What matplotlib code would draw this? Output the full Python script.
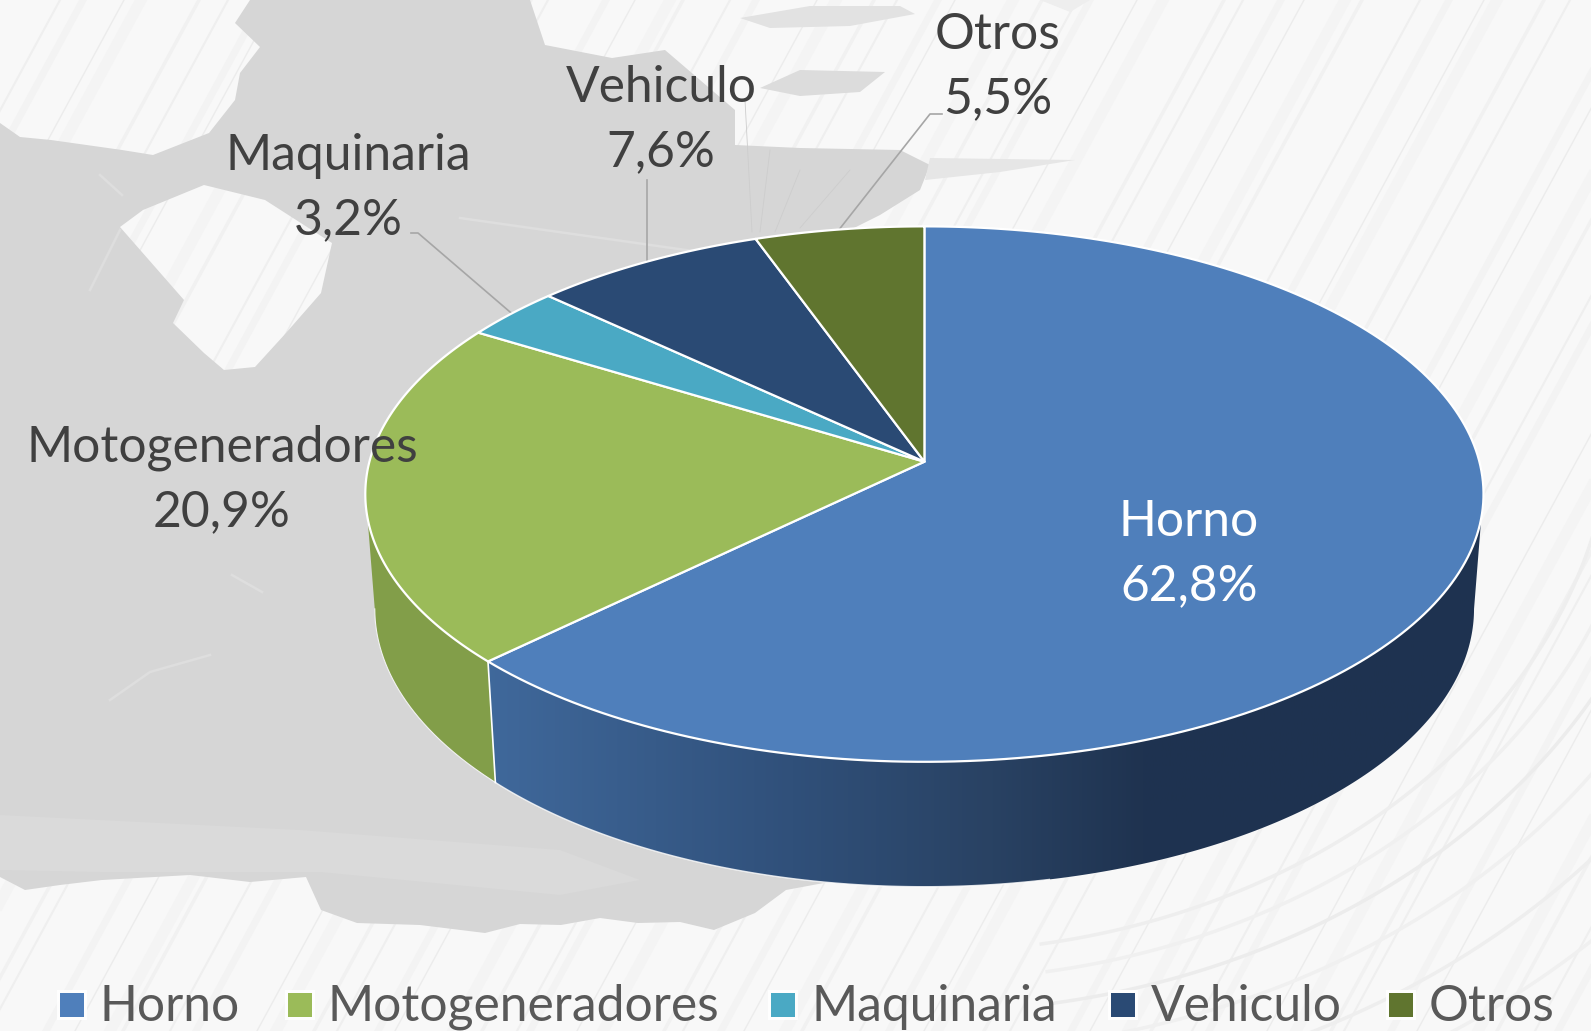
import numpy as np
import matplotlib
matplotlib.use("Agg")
import matplotlib.pyplot as plt
from matplotlib.colors import LinearSegmentedColormap
from matplotlib.patches import Polygon, PathPatch, Rectangle
from matplotlib.path import Path

# Data
categories = ["Horno", "Motogeneradores", "Maquinaria", "Vehiculo", "Otros"]
values = [62.8, 20.9, 3.2, 7.6, 5.5]
colors = ["#4f7fbb", "#9bbb59", "#4aa9c4", "#2a4a74", "#60752f"]

W, H = 1591, 1031
plt.rcParams["font.family"] = ["Lato", "DejaVu Sans"]

fig = plt.figure(figsize=(W / 100, H / 100), dpi=100)
ax = fig.add_axes([0, 0, 1, 1])
ax.axis("off")

# Fond : blanc, stries, zones grises
ax.add_patch(Rectangle((0, 0), W, H, fc="#f8f8f8", ec="none", zorder=0))
gaps = [23, 41, 17, 58, 29, 35, 13, 47, 26, 61, 19, 38]
x0 = -500
i = 0
while x0 < 1900:
    shade = ["#efefef", "#f3f3f3", "#ececec", "#f4f4f4", "#f1f1f1"][i % 5]
    ax.plot([x0, x0 + 560], [1031, 0], color=shade, lw=[1.5, 5, 1, 8, 2.5][i % 5], zorder=0.1)
    x0 += gaps[i % len(gaps)]
    i += 1
for r, c in zip([690, 725, 765, 815, 880, 950], ["#eeeeee", "#f0f0f0", "#ececec", "#f0f0f0", "#eeeeee", "#f0f0f0"]):
    t = np.linspace(0.05, 1.4, 80)
    ax.plot(924 + r * np.cos(t), 400 + r * 0.8 * np.sin(t), color=c, lw=2.5, zorder=0.2)

grey_main = [(0, 123), (20, 137), (51, 140), (122, 150), (153, 155), (209, 133), (235, 100),
             (240, 73), (260, 47), (235, 23), (250, 0), (530, 0), (545, 45), (612, 58),
             (665, 50), (700, 80), (735, 110), (735, 145), (800, 148), (900, 150), (930, 165),
             (920, 190), (880, 215), (840, 235), (840, 880), (786, 890), (755, 913),
             (714, 930), (680, 922), (638, 923), (600, 918), (561, 925), (520, 924), (485, 933),
             (420, 925), (357, 923), (321, 910), (306, 877), (250, 882), (190, 875),
             (102, 880), (60, 885), (25, 890), (0, 877)]
island = [(204, 185), (265, 200), (332, 243), (321, 293), (286, 333), (255, 367), (224, 370),
          (204, 353), (173, 323), (184, 300), (120, 227), (143, 210)]
island = island[::-1]
verts = grey_main + [grey_main[0]] + island + [island[0]]
codes = ([Path.MOVETO] + [Path.LINETO] * (len(grey_main) - 1) + [Path.CLOSEPOLY]
         + [Path.MOVETO] + [Path.LINETO] * (len(island) - 1) + [Path.CLOSEPOLY])
ax.add_patch(PathPatch(Path(verts, codes), fc="#d6d6d6", ec="none", zorder=0.5))

# Zones plus claires dans le gris, bandes du haut
ax.add_patch(Polygon([(0, 815), (300, 830), (560, 850), (640, 880), (560, 895), (320, 872), (100, 872), (0, 870)],
                     fc="#dadada", ec="none", zorder=0.55))
for band, c in [([(800, 70), (885, 72), (860, 92), (800, 96), (760, 88)], "#dcdcdc"),
                ([(740, 18), (810, 6), (900, 6), (915, 14), (850, 26), (770, 28)], "#e2e2e2"),
                ([(930, 158), (1075, 160), (1000, 172), (925, 180)], "#e6e6e6"),
                ([(1040, 0), (1090, 0), (1070, 12)], "#eeeeee")]:
    ax.add_patch(Polygon(band, fc=c, ec="none", zorder=0.6))
for seg in [[(460, 218), (700, 252)], [(100, 175), (122, 195)], [(232, 575), (262, 592)],
            [(110, 700), (150, 672), (210, 655)], [(440, 600), (450, 625)], [(120, 230), (90, 290)]]:
    ax.plot(*zip(*seg), color="#dedede", lw=1.8, zorder=0.7)
for seg in [[(745, 100), (752, 232)], [(770, 150), (760, 232)], [(800, 170), (775, 232)], [(850, 170), (800, 228)]]:
    ax.plot(*zip(*seg), color="#cdcdcd", lw=0.6, zorder=0.7)

# Camembert en perspective
cx, cy = 924.4, 461.7
a, b, k = 555.0, 263.8, 0.121
cy2, a2, b2 = 575.0, 545.6, 274.0


def ellipse_pt(theta, yc=cy, ra=a, rb=b):
    w = 1 + k * np.cos(theta)
    return cx + ra * np.sin(theta) / w, yc - rb * np.cos(theta) / w


def arc(t0, t1, yc=cy, ra=a, rb=b):
    t = np.radians(np.linspace(t0, t1, 200))
    x, y = ellipse_pt(t, yc, ra, rb)
    return np.column_stack([x, y])


ends = np.cumsum(values) / sum(values) * 360
starts = np.r_[0, ends[:-1]]

# Paroi
wall_h = np.vstack([arc(102, ends[0]), arc(ends[0], 97, cy2, a2, b2)])
wall_m = np.vstack([arc(ends[0], 258), arc(263, ends[0], cy2, a2, b2)])
wall_cmap = LinearSegmentedColormap.from_list(
    "wall", [(0, "#40699c"), (0.31, "#30507a"), (0.51, "#294263"), (0.66, "#1f3350"), (1, "#1e3250")])
grad = np.linspace(0, 1, 512).reshape(1, -1)
im = ax.imshow(grad, cmap=wall_cmap, extent=[480, 1483, 900, 450], aspect="auto", zorder=1)
im.set_clip_path(Polygon(wall_h, transform=ax.transData))
ax.add_patch(Polygon(wall_m, fc="#829e49", ec="none", zorder=1))
ax.plot(*zip(*arc(ends[0], 97, cy2, a2, b2)[:90]), color="white", lw=1, alpha=0.8, zorder=1.1)
ax.plot(*zip(*arc(263, ends[0], cy2, a2, b2)), color="#f2f2f2", lw=0.8, zorder=1.1)
ax.plot([wall_m[0, 0], wall_m[-1, 0]], [wall_m[0, 1], wall_m[-1, 1]], color="white", lw=1.2, zorder=1.2)

# Dessus
for s, e, col in zip(starts, ends, colors):
    poly = np.vstack([[cx, cy], arc(s, e)])
    ax.add_patch(Polygon(poly, fc=col, ec="white", lw=1.6, joinstyle="round", zorder=2))

# Etiquettes
label_xy = [(1189, 554), (222, 480), (348, 188), (661, 120), (998, 67)]
label_col = ["white", "#404040", "#404040", "#404040", "#404040"]
for name, v, (lx, ly), c in zip(categories, values, label_xy, label_col):
    txt = name + "\n" + f"{v:.1f}".replace(".", ",") + "%"
    ax.text(lx, ly, txt, color=c, fontsize=35.8, ha="center", va="center", linespacing=1.49, zorder=4)

# Traits de rappel
mids = (starts + ends) / 2
for idx, pts in [(2, [(411, 233), (418, 233)]), (3, [(647, 180)]), (4, [(942, 114), (930, 114)])]:
    ex, ey = ellipse_pt(np.radians(mids[idx]))
    if idx == 3:
        ex = pts[0][0]
    xs = [p[0] for p in pts] + [ex]
    ys = [p[1] for p in pts] + [ey]
    ax.plot(xs, ys, color="#a6a6a6", lw=1.2, zorder=1.5)

# Legende
legend_x = [60, 288, 771, 1111, 1389]
for name, col, lx in zip(categories, colors, legend_x):
    ax.add_patch(Rectangle((lx - 3, 990), 30, 30, fc="white", ec="none", alpha=0.9, zorder=3))
    ax.add_patch(Rectangle((lx, 993), 24, 24, fc=col, ec="none", zorder=3.1))
    ax.text(lx + 40, 1007, name, color="#595959", fontsize=35.8, ha="left", va="center", zorder=4)

ax.set_xlim(0, W)
ax.set_ylim(H, 0)
fig.savefig("out.png", dpi=100)
